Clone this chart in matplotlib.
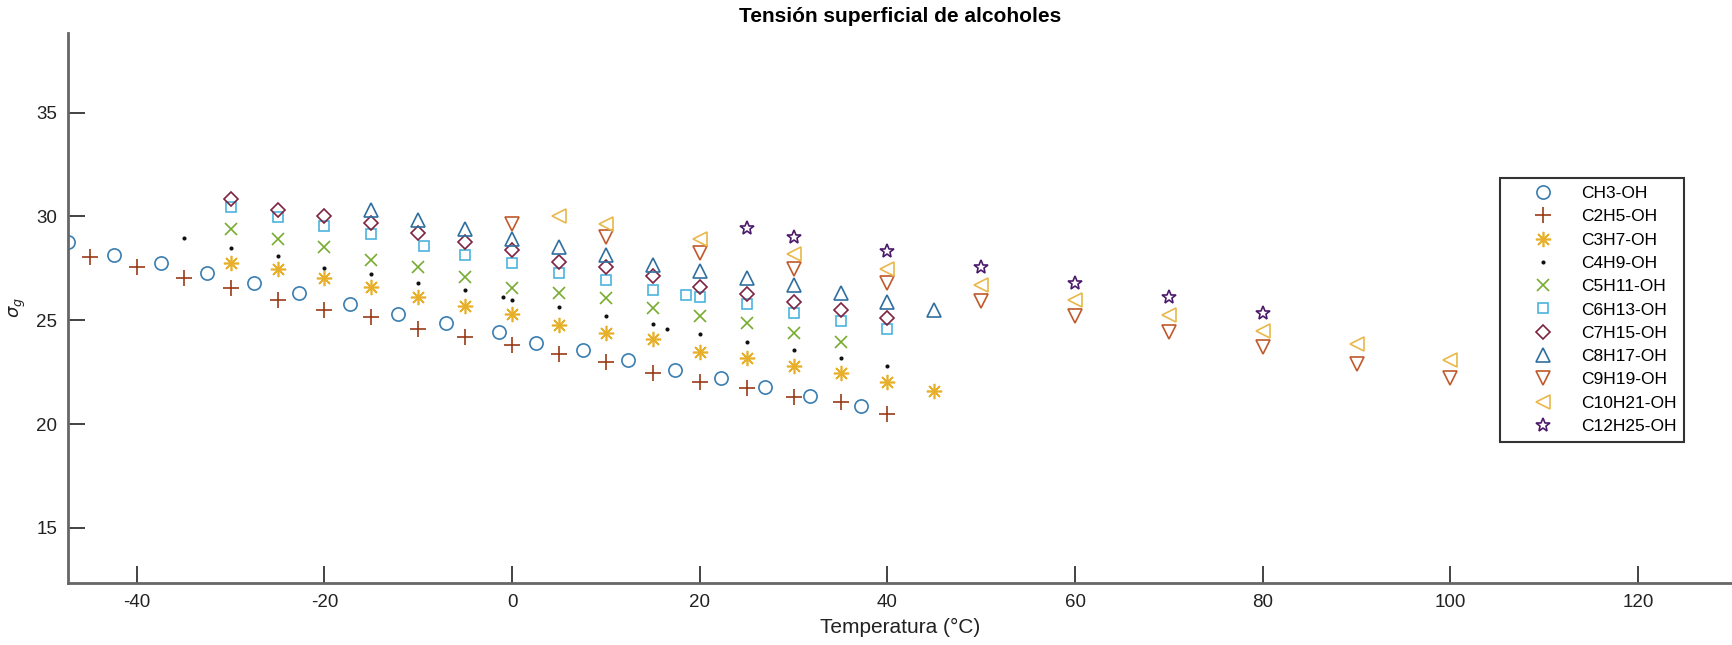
import matplotlib
matplotlib.use("Agg")
import matplotlib.pyplot as plt

plt.rcParams['font.family'] = ['Liberation Sans', 'DejaVu Sans']
plt.rcParams['axes.unicode_minus'] = False

# temperaturas (°C) y tension superficial de cada alcohol
T_ch3 = [-47.3, -42.4, -37.4, -32.5, -27.5, -22.7, -17.3, -12.2, -7.0, -1.4, 2.5, 7.5,
         12.4, 17.4, 22.3, 27.0, 31.7, 37.2]
s_ch3 = [28.76, 28.13, 27.75, 27.29, 26.81, 26.30, 25.79, 25.31, 24.86, 24.45, 23.92, 23.55,
         23.09, 22.61, 22.21, 21.78, 21.37, 20.89]

T_c2 = [-45, -40, -35, -30, -25, -20, -15, -10, -5, 0, 5, 10, 15, 20, 25, 30, 35, 40]
s_c2 = [28.06, 27.58, 27.05, 26.54, 25.98, 25.50, 25.15, 24.58, 24.21, 23.81, 23.38, 22.98,
        22.48, 22.05, 21.73, 21.32, 21.04, 20.48]

T_c3 = [-30, -25, -20, -15, -10, -5, 0, 5, 10, 15, 20, 25, 30, 35, 40, 45]
s_c3 = [27.78, 27.46, 27.05, 26.62, 26.14, 25.69, 25.31, 24.78, 24.41, 24.09, 23.46, 23.17,
        22.82, 22.48, 22.02, 21.61]

T_c4 = [-35, -30, -25, -20, -15, -10, -5, -1, 0, 5, 10, 15, 16.5, 20, 25, 30, 35, 40]
s_c4 = [28.95, 28.50, 28.10, 27.51, 27.23, 26.81, 26.46, 26.11, 25.98, 25.63, 25.22, 24.82,
        24.58, 24.33, 23.94, 23.57, 23.17, 22.80]

T_c5 = [-30, -25, -20, -15, -10, -5, 0, 5, 10, 15, 20, 25, 30, 35]
s_c5 = [29.38, 28.90, 28.52, 27.91, 27.55, 27.07, 26.54, 26.30, 26.06, 25.61, 25.22, 24.86,
        24.38, 23.97]

T_c6 = [-30, -25, -20, -15, -9.4, -5, 0, 5, 10, 15, 18.5, 20, 25, 30, 35, 40]
s_c6 = [30.44, 29.99, 29.54, 29.16, 28.60, 28.15, 27.75, 27.29, 26.94, 26.46, 26.22, 26.14,
        25.79, 25.37, 24.98, 24.58]

T_c7 = [-30, -25, -20, -15, -10, -5, 0, 5, 10, 15, 20, 25, 30, 35, 40]
s_c7 = [30.83, 30.31, 30.02, 29.70, 29.19, 28.79, 28.39, 27.82, 27.55, 27.14, 26.62, 26.27,
        25.90, 25.50, 25.10]

T_c8 = [-15, -10, -5, 0, 5, 10, 15, 20, 25, 30, 35, 40, 45]
s_c8 = [30.31, 29.83, 29.38, 28.90, 28.52, 28.15, 27.66, 27.39, 27.02, 26.70, 26.30, 25.90, 25.50]

T_c9 = [0, 10, 20, 30, 40, 50, 60, 70, 80, 90, 100]
s_c9 = [29.64, 29.00, 28.23, 27.46, 26.78, 25.93, 25.22, 24.45, 23.73, 22.90, 22.21]

T_c10 = [5, 10, 20, 30, 40, 50, 60, 70, 80, 90, 100]
s_c10 = [30.02, 29.64, 28.90, 28.19, 27.46, 26.70, 25.98, 25.26, 24.50, 23.86, 23.09]

T_c12 = [25, 30, 40, 50, 60, 70, 80]
s_c12 = [29.43, 29.00, 28.34, 27.55, 26.78, 26.11, 25.34]

nombres = ['CH3-OH', 'C2H5-OH', 'C3H7-OH', 'C4H9-OH', 'C5H11-OH', 'C6H13-OH',
           'C7H15-OH', 'C8H17-OH', 'C9H19-OH', 'C10H21-OH', 'C12H25-OH']

series = [(T_ch3, s_ch3), (T_c2, s_c2), (T_c3, s_c3), (T_c4, s_c4), (T_c5, s_c5),
          (T_c6, s_c6), (T_c7, s_c7), (T_c8, s_c8), (T_c9, s_c9), (T_c10, s_c10),
          (T_c12, s_c12)]

# estilo tipo matlab
estilos = [
    ('o', 9.5, '#3a7db0'),
    ('+', 11, '#9a3b16'),
    ((8, 2, 0), 11, '#e8b02a'),
    ('.', 3.5, '#111111'),
    ('x', 8.5, '#77ac30'),
    ('s', 7.5, '#4db4dd'),
    ('D', 7.5, '#7e2340'),
    ('^', 10, '#2f6f9f'),
    ('v', 10, '#c0592b'),
    ('<', 10, '#e8b84a'),
    ('*', 10, '#4b1a6b'),
]

fig = plt.figure(figsize=(17.32, 6.45), dpi=100)
ax = fig.add_axes([68.3 / 1732, 1 - 582.7 / 645, 1 - 68.3 / 1732, (582.7 - 33.3) / 645])

for (T, s), nom, (mk, ms, col) in zip(series, nombres, estilos):
    ax.plot(T, s, linestyle='none', marker=mk, markersize=ms, markerfacecolor='none' if mk != '.' else col,
            markeredgecolor=col, markeredgewidth=1.2, label=nom)

ax.set_xlim(-47.3, 130.0)
ax.set_ylim(12.36, 38.82)
ax.set_xticks(range(-40, 121, 20))
ax.set_yticks([15, 20, 25, 30, 35])

for lado in ['top', 'right']:
    ax.spines[lado].set_visible(False)
for lado in ['left', 'bottom']:
    ax.spines[lado].set_color('#666666')
    ax.spines[lado].set_linewidth(2.0)
ax.tick_params(direction='in', length=12, width=1.2, color='#222222', labelsize=13.5,
               labelcolor='#222222', pad=8)

ax.set_title('Tensión superficial de alcoholes', fontsize=15, fontweight='bold', pad=8)
ax.set_xlabel('Temperatura (°C)', fontsize=15, color='#222222', labelpad=5)
ax.set_ylabel(r'$\sigma_g$', fontsize=13, color='#222222', labelpad=6)

leg = ax.legend(loc='upper left', bbox_to_anchor=(1500 / 1732, 1 - 178 / 645),
                bbox_transform=fig.transFigure, borderaxespad=0, fontsize=12.5,
                numpoints=1, handlelength=4.1, handletextpad=0.1, borderpad=0.45,
                labelspacing=0.47, fancybox=False, framealpha=1, edgecolor='#333333')
leg.get_frame().set_linewidth(1.5)

fig.savefig('out.png', dpi=100, facecolor='white')
